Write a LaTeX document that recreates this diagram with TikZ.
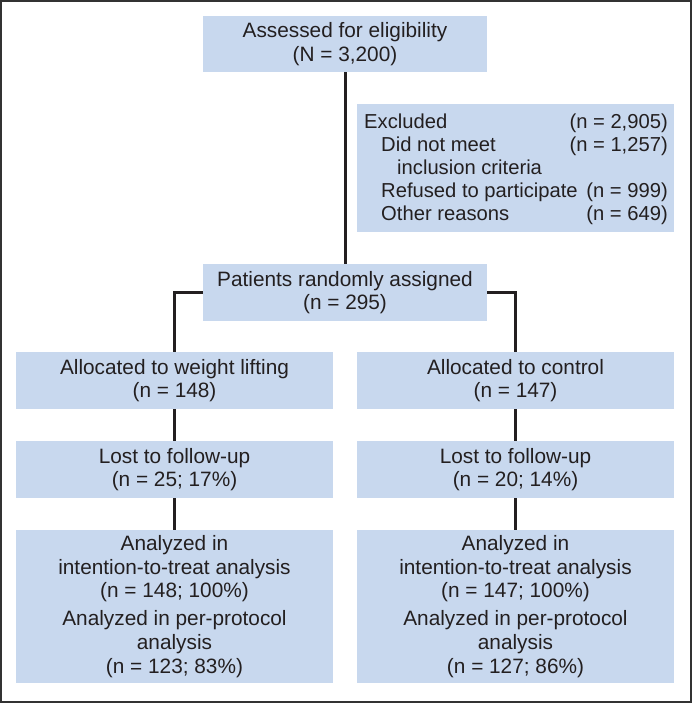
\documentclass[tikz,border=0pt]{standalone}
\usepackage{fontspec}
\setmainfont{Liberation Sans}
\definecolor{boxfill}{RGB}{200,216,238}
\definecolor{ink}{RGB}{35,31,32}
\definecolor{framecol}{RGB}{50,50,50}
\begin{document}
\begin{tikzpicture}[x=1pt,y=-1pt,
  every node/.style={text=ink},
  flowbox/.style={fill=boxfill, draw=none, inner sep=0pt, align=center,
    font=\fontsize{20.8}{23.6}\selectfont},
  exltext/.style={inner sep=0pt, font=\fontsize{20.2}{23.4}\selectfont},
  link/.style={draw=ink, line width=3pt}]
\useasboundingbox (0,0) rectangle (692,703);
\fill[white] (0,0) rectangle (692,703);
\draw[framecol, line width=2pt] (1,1) rectangle (691,702);

\node[flowbox, minimum width=284pt, minimum height=56pt] (assess) at (345,44)
  {Assessed for eligibility\\(N = 3,200)};
\node[flowbox, minimum width=317pt, minimum height=128pt] (excl) at (515.5,168) {};
\node[exltext, anchor=base west] (e1) at (364,129) {Excluded};
\node[exltext, anchor=base west] (e2) at (381,152) {Did not meet};
\node[exltext, anchor=base west] (e3) at (397,175) {inclusion criteria};
\node[exltext, anchor=base west] (e4) at (381,198) {Refused to participate};
\node[exltext, anchor=base west] (e5) at (381,221) {Other reasons};
\node[exltext, anchor=base east] (n1) at (668,129) {(n = 2,905)};
\node[exltext, anchor=base east] (n2) at (668,152) {(n = 1,257)};
\node[exltext, anchor=base east] (n4) at (668,198) {(n = 999)};
\node[exltext, anchor=base east] (n5) at (668,221) {(n = 649)};

\node[flowbox, minimum width=284pt, minimum height=57pt] (rand) at (345,292.5)
  {Patients randomly assigned\\(n = 295)};

\node[flowbox, minimum width=317pt, minimum height=57pt] (allocL) at (174.5,380.5)
  {Allocated to weight lifting\\(n = 148)};
\node[flowbox, minimum width=317pt, minimum height=57pt] (allocR) at (515.5,380.5)
  {Allocated to control\\(n = 147)};

\node[flowbox, minimum width=317pt, minimum height=57pt] (lostL) at (174.5,469.5)
  {Lost to follow-up\\(n = 25; 17\%)};
\node[flowbox, minimum width=317pt, minimum height=57pt] (lostR) at (515.5,469.5)
  {Lost to follow-up\\(n = 20; 14\%)};

\node[flowbox, minimum width=317pt, minimum height=153pt] (anaL) at (174.5,606.5)
  {Analyzed in\\intention-to-treat analysis\\(n = 148; 100\%)\\[4.5pt]
   Analyzed in per-protocol\\analysis\\(n = 123; 83\%)};
\node[flowbox, minimum width=317pt, minimum height=153pt] (anaR) at (515.5,606.5)
  {Analyzed in\\intention-to-treat analysis\\(n = 147; 100\%)\\[4.5pt]
   Analyzed in per-protocol\\analysis\\(n = 127; 86\%)};

\draw[link] (assess.south) -- (rand.north);
\draw[link] (rand.west) -| (allocL.north);
\draw[link] (rand.east) -| (allocR.north);
\draw[link] (allocL.south) -- (lostL.north);
\draw[link] (allocR.south) -- (lostR.north);
\draw[link] (lostL.south) -- (anaL.north);
\draw[link] (lostR.south) -- (anaR.north);
\end{tikzpicture}
\end{document}
